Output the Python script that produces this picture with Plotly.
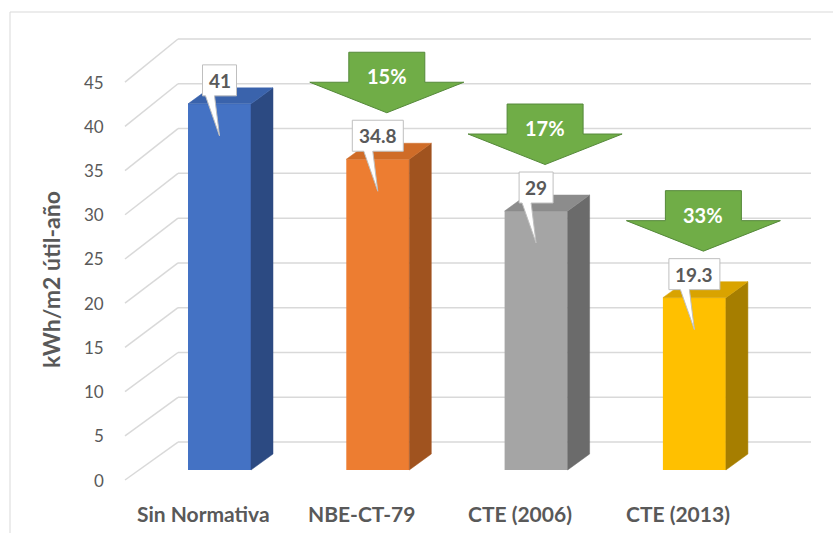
import plotly.graph_objects as go

# ---- data -------------------------------------------------------------
categories = ["Sin Normativa", "NBE-CT-79", "CTE (2006)", "CTE (2013)"]
consumo = [41, 34.8, 29, 19.3]          # kWh/m2 útil-año
y_ticks = [0, 5, 10, 15, 20, 25, 30, 35, 40, 45]
axis_title = "kWh/m2 útil-año"

# ---- styles -----------------------------------------------------------
front_colors = ["#4472C4", "#ED7D31", "#A5A5A5", "#FFC000"]
side_colors = ["#2C4A82", "#A0531F", "#6B6B6B", "#A67E00"]
top_colors = ["#3A63AC", "#CF6C28", "#8C8C8C", "#D9A300"]
TEXT = "#595959"
GRID = "#D9D9D9"
ARROW_FILL = "#70AD47"
ARROW_LINE = "#55893A"
FONT = "Lato, 'Open Sans', sans-serif"

W, H = 833, 533
# axis scale: first category at pixel 219.5, 158.3 px per category,
# zero of the bar plane at pixel 470, 8.93 px per kWh
X0_PX, UX = 219.5, 158.3
Y0_PX, UY = 470.0, 8.93


def dx(px):
    return px / UX


def dy(px):
    return px / UY


def px_x(px):
    return (px - X0_PX) / UX


def px_y(px):
    return (Y0_PX - px) / UY


HALF = dx(31.5)                 # half width of the column front
DEPTH_X, DEPTH_Y = dx(22), dy(16)
WALL_X0, WALL_X1, FRONT_X = px_x(178), px_x(811), px_x(125)


def wall_y(t):
    return t * 1.003 + 3.13


def front_y(t):
    return t * 0.99 - 1.12


fig = go.Figure()

# ---- column fronts ------------------------------------------------------
for i, v in enumerate(consumo):
    fig.add_trace(go.Bar(
        x=[i], y=[v], base=0, width=2 * HALF,
        marker=dict(color=front_colors[i], line=dict(width=0)),
        hoverinfo="skip"))

# ---- column sides and tops ----------------------------------------------
for i, v in enumerate(consumo):
    r = i + HALF
    l = i - HALF
    fig.add_trace(go.Scatter(
        x=[r, r + DEPTH_X, r + DEPTH_X, r, r],
        y=[0, DEPTH_Y, v + DEPTH_Y, v, 0],
        fill="toself", fillcolor=side_colors[i], mode="lines",
        line=dict(color=side_colors[i], width=0.5), hoverinfo="skip"))
    fig.add_trace(go.Scatter(
        x=[l, l + DEPTH_X, r + DEPTH_X, r, l],
        y=[v, v + DEPTH_Y, v + DEPTH_Y, v, v],
        fill="toself", fillcolor=top_colors[i], mode="lines",
        line=dict(color=top_colors[i], width=0.5), hoverinfo="skip"))

annotations = []

# ---- value callouts -----------------------------------------------------
for i, v in enumerate(consumo):
    label = f"{v:g}"
    n_dig = sum(ch.isdigit() for ch in label)
    n_dot = label.count(".")
    hw = dx((16 + 9 * n_dig + 8 * n_dot) / 2)
    b = v + dy(8)
    t = b + dy(31)
    tip = v - dy(32)
    fig.add_trace(go.Scatter(
        x=[i - hw, i + hw, i + hw, i - dx(5), i, i - dx(14), i - hw, i - hw],
        y=[t, t, b, b, tip, b, b, t],
        fill="toself", fillcolor="white", mode="lines",
        line=dict(color="#BFBFBF", width=1), hoverinfo="skip"))
    annotations.append(dict(
        x=i, y=(b + t) / 2, text=f"<b>{label}</b>", showarrow=False,
        xanchor="center", yanchor="middle",
        font=dict(family=FONT, size=19, color=TEXT)))

# ---- reduction arrows ---------------------------------------------------
for i in range(1, len(consumo)):
    v = consumo[i]
    pct = round((1 - consumo[i] / consumo[i - 1]) * 100)
    c = i + dx(9)
    sw, hw = dx(38), dx(77)
    tip, head, top = v + dy(46.5), v + dy(77), v + dy(107)
    fig.add_trace(go.Scatter(
        x=[c - sw, c + sw, c + sw, c + hw, c, c - hw, c - sw, c - sw],
        y=[top, top, head, head, tip, head, head, top],
        fill="toself", fillcolor=ARROW_FILL, mode="lines",
        line=dict(color=ARROW_LINE, width=1), hoverinfo="skip"))
    annotations.append(dict(
        x=c, y=v + dy(83), text=f"<b>{pct}%</b>", showarrow=False,
        xanchor="center", yanchor="middle",
        font=dict(family=FONT, size=20, color="white")))

# ---- back wall grid and depth lines -------------------------------------
shapes = []
for t in y_ticks:
    shapes.append(dict(type="line", layer="below", xref="x", yref="y",
                       x0=WALL_X0, x1=WALL_X1, y0=wall_y(t), y1=wall_y(t),
                       line=dict(color=GRID, width=1.5)))
    shapes.append(dict(type="line", layer="below", xref="x", yref="y",
                       x0=FRONT_X, x1=WALL_X0, y0=front_y(t), y1=wall_y(t),
                       line=dict(color=GRID, width=1.5)))
    annotations.append(dict(
        x=px_x(106), y=front_y(t), text=str(t), showarrow=False,
        xanchor="right", yanchor="middle",
        font=dict(family=FONT, size=17, color=TEXT)))

# chart area frame
shapes.append(dict(type="rect", xref="paper", yref="paper",
                   x0=10 / W, x1=1.02, y0=-0.02, y1=1 - 12 / H,
                   line=dict(color=GRID, width=1), layer="below"))

# ---- category labels and axis title -------------------------------------
for i, name in enumerate(categories):
    annotations.append(dict(
        x=i - dx(16), y=px_y(513), text=f"<b>{name}</b>", showarrow=False,
        xanchor="center", yanchor="middle",
        font=dict(family=FONT, size=21, color=TEXT)))

annotations.append(dict(
    x=px_x(51), y=px_y(280), text=f"<b>{axis_title}</b>", showarrow=False,
    textangle=-90, xanchor="center", yanchor="middle",
    font=dict(family=FONT, size=23, color=TEXT)))

fig.update_layout(
    width=W, height=H,
    margin=dict(l=0, r=0, t=0, b=0),
    paper_bgcolor="white", plot_bgcolor="white",
    showlegend=False, barmode="overlay",
    xaxis=dict(range=[px_x(0), px_x(W)], visible=False, fixedrange=True),
    yaxis=dict(range=[px_y(H), px_y(0)], visible=False, fixedrange=True),
    shapes=shapes, annotations=annotations,
)

fig.write_html("out.html")
